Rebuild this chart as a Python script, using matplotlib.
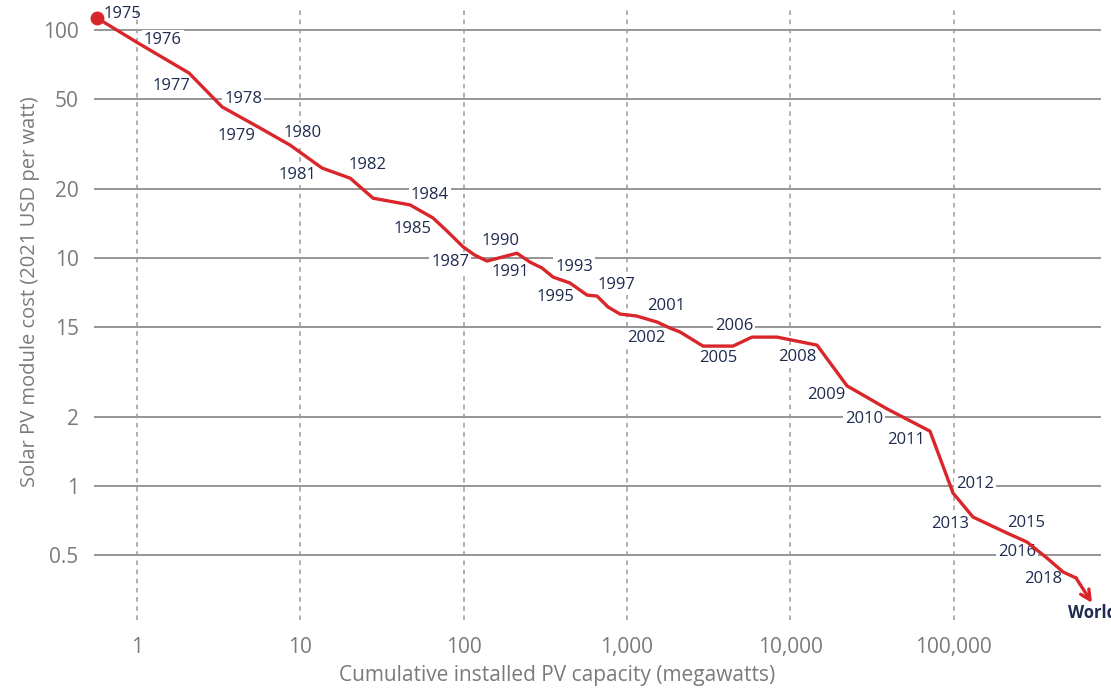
import matplotlib.pyplot as plt

# 누적 설치 용량 (MW) 과 모듈 가격 (2021 USD/W), 그림에서 읽은 값
years = list(range(1975, 2020))
capacity = [0.569, 1.04, 2.08, 3.32, 5.51, 8.65, 13.6, 20.2, 27.9, 47.0,
            64.9, 80.3, 99.2, 117, 139, 212, 255, 302, 353, 448,
            570, 656, 766, 907, 1145, 1529, 1836, 2114, 2924, 3717,
            4463, 5836, 8301, 14590, 22280, 39150, 71780, 99290, 131600, 212600,
            281900, 373700, 468200, 562500, 704800]
price = [112.9, 86.8, 64.8, 46.0, 37.6, 31.3, 24.8, 22.4, 18.3, 17.1,
         15.0, 13.0, 11.2, 10.3, 9.70, 10.5, 9.60, 9.04, 8.25, 7.77,
         6.88, 6.81, 6.10, 5.68, 5.57, 5.24, 4.93, 4.74, 4.11, 4.11,
         4.11, 4.50, 4.50, 4.15, 2.75, 2.18, 1.74, 0.932, 0.731, 0.622,
         0.568, 0.483, 0.420, 0.395, 0.307]

# 라벨 붙는 연도와 위치 (픽셀 오프셋, 아래쪽이 +)
label_offsets = {
    1976: (23, -4), 1977: (-18, 13), 1978: (21, -8), 1979: (-22, 9),
    1980: (13, -12), 1981: (-25, 7), 1982: (17, -13), 1984: (20, -10),
    1985: (-20, 11), 1987: (-13, 15), 1990: (-16, -12), 1991: (-20, 10),
    1993: (21, -10), 1995: (-32, 2), 1997: (8, -22), 2001: (-4, -22),
    2002: (-34, 6), 2005: (-15, 12), 2006: (-18, -11), 2008: (-20, 12),
    2009: (-21, 9), 2010: (-23, 10), 2011: (-24, 9), 2012: (22, -9),
    2013: (-23, 7), 2015: (-1, -19), 2016: (-30, -6), 2018: (-33, 1),
}

y_ticks = [0.5, 1, 2, 5, 10, 20, 50, 100]
y_tick_labels = ['0.5', '1', '2', '15', '10', '20', '50', '100']
x_ticks = [1, 10, 100, 1000, 10000, 100000]
x_tick_labels = ['1', '10', '100', '1,000', '10,000', '100,000']

RED = '#d9262b'
NAVY = '#1e2a4f'
GREY = '#7a7a7a'

plt.rcParams['font.family'] = ['Open Sans', 'DejaVu Sans']

fig = plt.figure(figsize=(11.11, 6.88), dpi=100)
ax = fig.add_axes([0.0846, 0.0988, 0.9064, 0.8866])
ax.set_xscale('log')
ax.set_yscale('log')
ax.set_xlim(0.545, 800000)
ax.set_ylim(0.2584, 122.4)

for s in ax.spines.values():
    s.set_visible(False)

# 그리드 (가로 실선, 세로 점선)
for yv in y_ticks:
    ax.axhline(yv, color='#8e8e8e', lw=1.3, zorder=1)
for xv in x_ticks:
    ax.axvline(xv, color='#9a9a9a', lw=1.1, ls=(0, (3, 3)), zorder=1)

ax.set_yticks(y_ticks)
ax.set_yticklabels(y_tick_labels)
ax.set_xticks(x_ticks)
ax.set_xticklabels(x_tick_labels)
ax.minorticks_off()
ax.tick_params(length=0, labelsize=15, labelcolor=GREY)
ax.tick_params(axis='y', pad=11)
ax.tick_params(axis='x', pad=12)

# 축 제목 (그림 좌표로 직접 배치)
fig.text(557 / 1111, 1 - 675 / 688, 'Cumulative installed PV capacity (megawatts)',
         fontsize=15, color=GREY, ha='center', va='center')
fig.text(30 / 1111, 1 - 292 / 688, 'Solar PV module cost (2021 USD per watt)',
         fontsize=14.5, color=GREY, ha='center', va='center', rotation=90)

# 본선 + 끝 화살표
ax.plot(capacity[:-1], price[:-1], color=RED, lw=2.4, zorder=3,
        solid_joinstyle='round')
ax.plot(capacity[0], price[0], 'o', color=RED, ms=9, zorder=4, clip_on=False)
ax.annotate('', xy=(capacity[-1], price[-1]), xytext=(capacity[-2], price[-2]),
            arrowprops=dict(arrowstyle='->,head_length=0.7,head_width=0.35',
                            color=RED, lw=2.4, shrinkA=0, shrinkB=0), zorder=3)

# 연도 라벨: 흰 배경으로 그리드만 끊고, 빨간 선 아래에 둠
box = dict(facecolor='white', edgecolor='none', pad=1.5)
ax.annotate('1975', (capacity[0], price[0]), xytext=(6, 4),
            textcoords='offset pixels', ha='left', va='center',
            fontsize=12, color=NAVY, zorder=2)
for yr, (dx, dy) in label_offsets.items():
    i = years.index(yr)
    ax.annotate(str(yr), (capacity[i], price[i]), xytext=(dx, -dy),
                textcoords='offset pixels', ha='center', va='center',
                fontsize=12, color=NAVY, bbox=box, zorder=2)

ax.annotate('World', (capacity[-1], price[-1]), xytext=(-24, -10),
            textcoords='offset pixels', ha='left', va='center',
            fontsize=12, fontweight='bold', color=NAVY, zorder=5,
            annotation_clip=False)

fig.savefig('out.png', dpi=100)
